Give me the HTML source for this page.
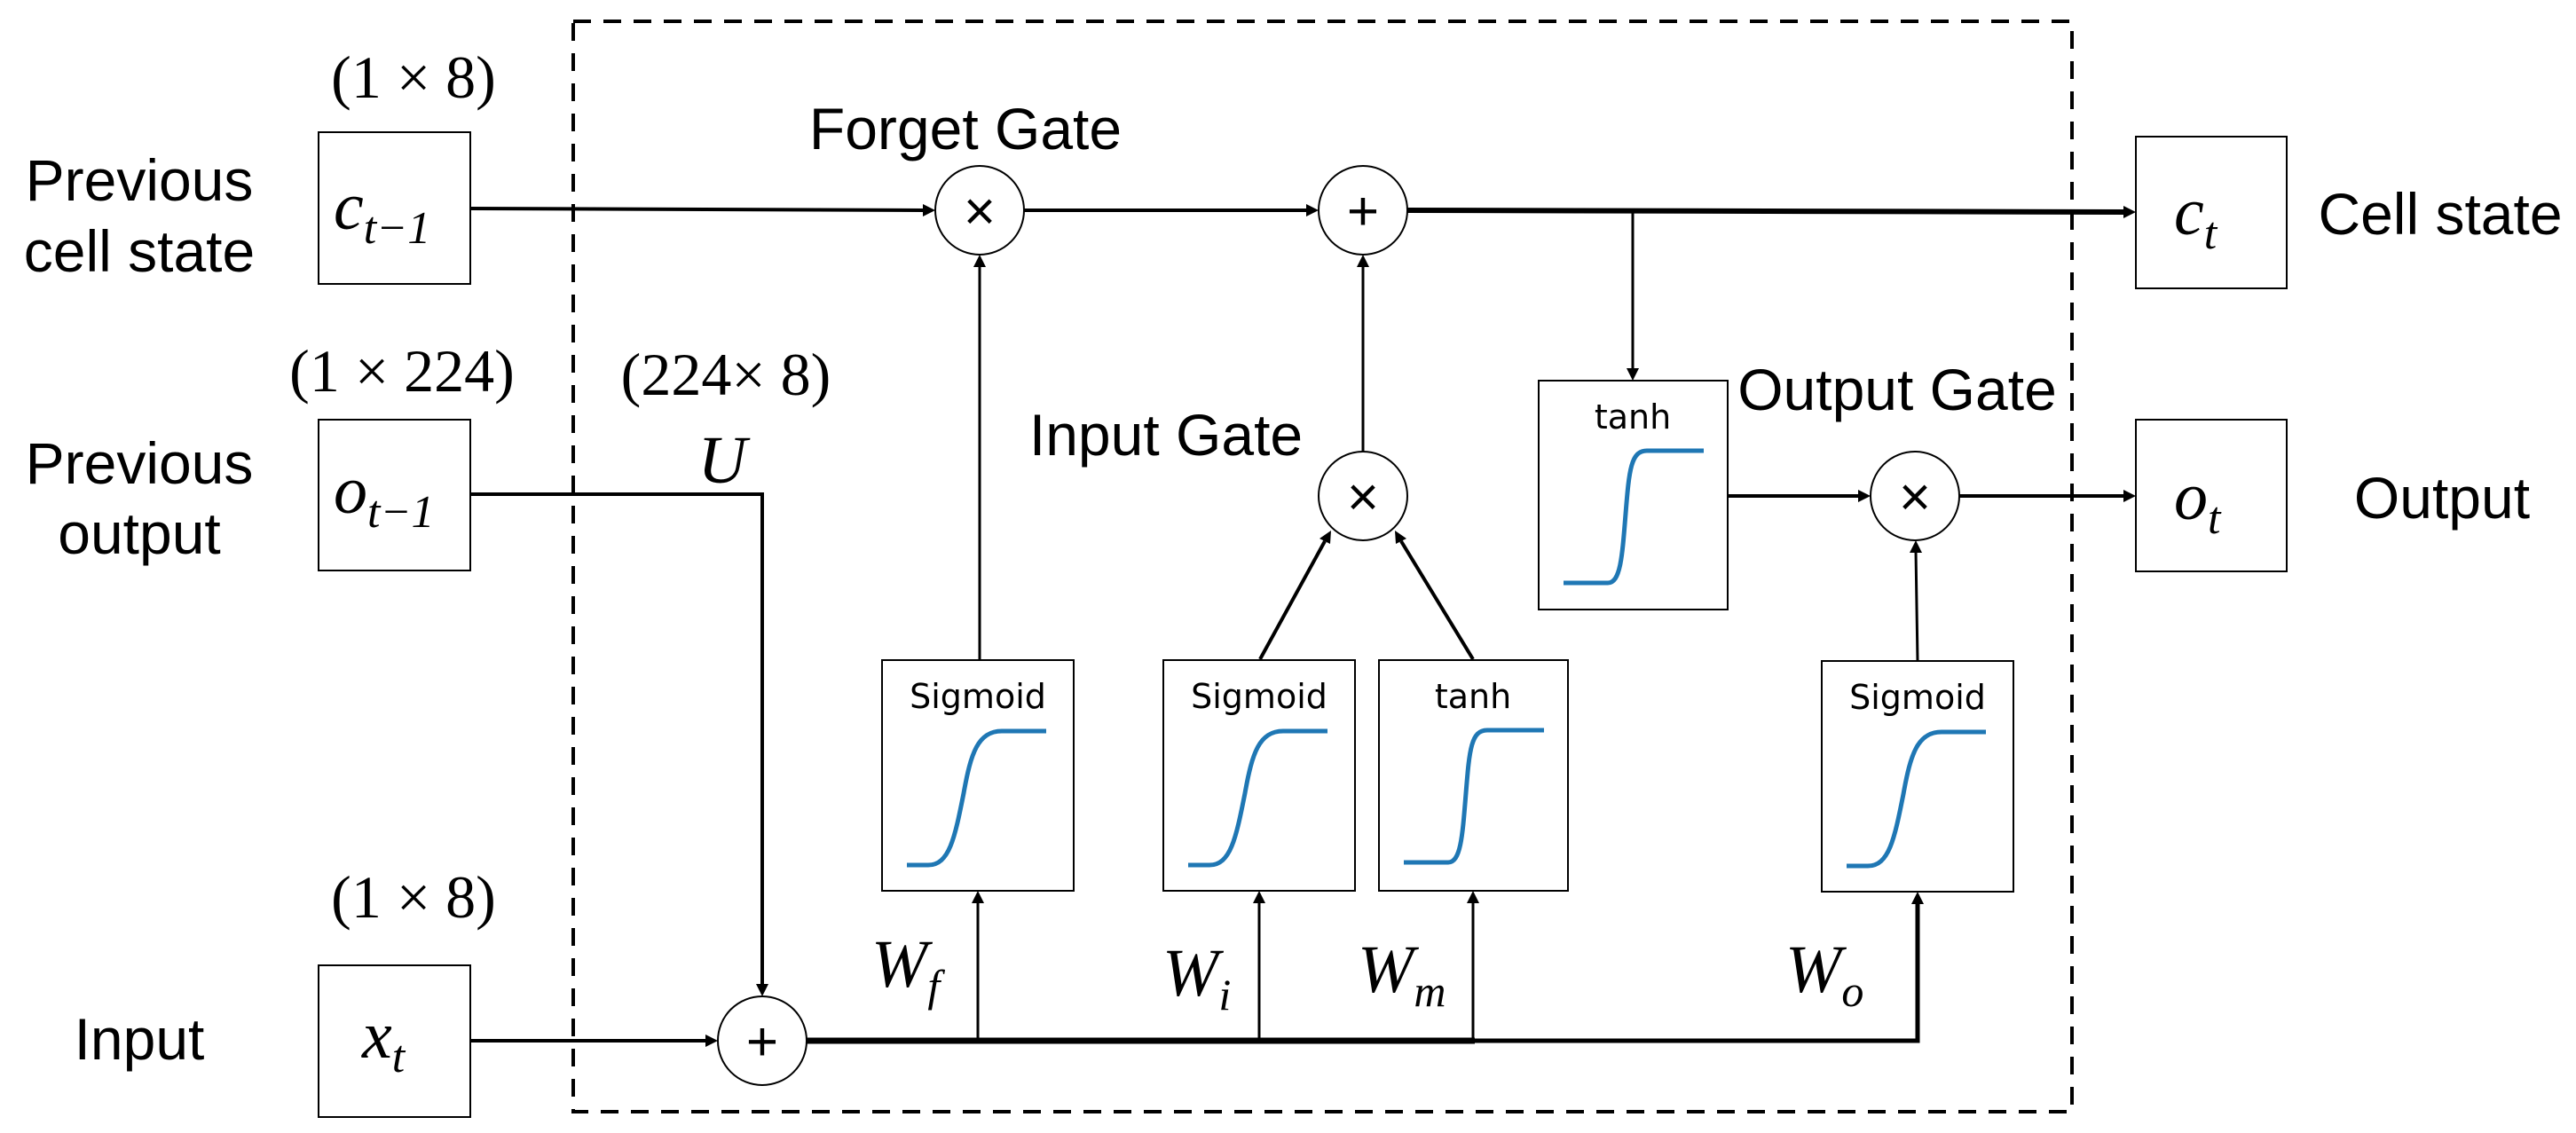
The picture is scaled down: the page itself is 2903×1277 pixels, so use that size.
<!DOCTYPE html>
<html><head><meta charset="utf-8"><style>
html,body{margin:0;padding:0;background:#fff;}
svg{display:block;}
.lbl{font-family:"Liberation Sans",Arial,sans-serif;font-size:66px;fill:#000;}
.m{font-family:"Liberation Serif",serif;font-size:68px;fill:#000;}
.mi{font-family:"Liberation Serif",serif;font-style:italic;font-size:76px;fill:#000;}
.fn{font-family:"DejaVu Sans",sans-serif;font-size:38px;fill:#000;}
</style></head><body>
<svg width="2903" height="1277" viewBox="0 0 2903 1277" xmlns="http://www.w3.org/2000/svg">
<defs>
<symbol id="sg" viewBox="0 0 216 260" width="216" height="260">
<path d="M28,231 L52,231 C76,231 82,200 92,150 C100,105 108,80 135,80 L185,80" fill="none" stroke="#1f77b4" stroke-width="5"/>
</symbol>
<symbol id="th" viewBox="0 0 213 260" width="213" height="260">
<path d="M28,228 L78,228 C92,228 94,200 98,150 C102,100 104,79 122,79 L186,79" fill="none" stroke="#1f77b4" stroke-width="5"/>
</symbol>
</defs>

<rect x="646" y="24" width="1689" height="1229" fill="none" stroke="#000" stroke-width="4" stroke-dasharray="20,14"/>

<rect x="359" y="149" width="171" height="171" fill="#fff" stroke="#000" stroke-width="2"/>
<rect x="359" y="473" width="171" height="170" fill="#fff" stroke="#000" stroke-width="2"/>
<rect x="359" y="1088" width="171" height="171" fill="#fff" stroke="#000" stroke-width="2"/>
<rect x="2407" y="154" width="170" height="171" fill="#fff" stroke="#000" stroke-width="2"/>
<rect x="2407" y="473" width="170" height="171" fill="#fff" stroke="#000" stroke-width="2"/>

<rect x="994" y="744" width="216" height="260" fill="#fff" stroke="#000" stroke-width="2"/>
<use href="#sg" x="994" y="744"/>
<text class="fn" x="1102" y="798" text-anchor="middle">Sigmoid</text>
<rect x="1311" y="744" width="216" height="260" fill="#fff" stroke="#000" stroke-width="2"/>
<use href="#sg" x="1311" y="744"/>
<text class="fn" x="1419" y="798" text-anchor="middle">Sigmoid</text>
<rect x="1554" y="744" width="213" height="260" fill="#fff" stroke="#000" stroke-width="2"/>
<use href="#th" x="1554" y="744"/>
<text class="fn" x="1660" y="798" text-anchor="middle">tanh</text>
<rect x="2053" y="745" width="216" height="260" fill="#fff" stroke="#000" stroke-width="2"/>
<use href="#sg" x="2053" y="745"/>
<text class="fn" x="2161" y="799" text-anchor="middle">Sigmoid</text>
<rect x="1734" y="429" width="213" height="258" fill="#fff" stroke="#000" stroke-width="2"/>
<use href="#th" x="1734" y="429"/>
<text class="fn" x="1840" y="483" text-anchor="middle">tanh</text>

<g stroke="#000" fill="none">
<line x1="530" y1="235" x2="1042" y2="237" stroke-width="4"/>
<line x1="1154" y1="237" x2="1474" y2="237" stroke-width="4"/>
<line x1="1586" y1="237" x2="2395" y2="239" stroke-width="6"/>
<line x1="1840" y1="237" x2="1840" y2="417" stroke-width="3"/>
<line x1="1104" y1="744" x2="1104" y2="299" stroke-width="3"/>
<line x1="1536" y1="509" x2="1536" y2="299" stroke-width="3"/>
<line x1="1420" y1="743" x2="1493" y2="610" stroke-width="4"/>
<line x1="1660" y1="743" x2="1579" y2="610" stroke-width="4"/>
<line x1="1947" y1="559" x2="2096" y2="559" stroke-width="4"/>
<line x1="2208" y1="559" x2="2395" y2="559" stroke-width="4"/>
<line x1="2161" y1="745" x2="2159" y2="621" stroke-width="3"/>
<polyline points="530,557 859,557 859,1111" stroke-width="4"/>
<line x1="530" y1="1173" x2="797" y2="1173" stroke-width="4"/>
<line x1="908" y1="1173" x2="1662" y2="1173" stroke-width="7"/>
<polyline points="1660,1173 2161,1173 2161,1017" stroke-width="5"/>
<line x1="1102" y1="1173" x2="1102" y2="1016" stroke-width="3"/>
<line x1="1419" y1="1173" x2="1419" y2="1016" stroke-width="3"/>
<line x1="1660" y1="1173" x2="1660" y2="1016" stroke-width="3"/>
</g>
<g fill="#000">
<polygon points="1054,237 1040,230 1040,244"/>
<polygon points="1486,237 1472,230 1472,244"/>
<polygon points="2407,239 2393,232 2393,246"/>
<polygon points="1840,429 1833,415 1847,415"/>
<polygon points="1104,287 1097,301 1111,301"/>
<polygon points="1536,287 1529,301 1543,301"/>
<polygon points="1500,598 1487,607 1499,613"/>
<polygon points="1572,598 1573,613 1585,607"/>
<polygon points="2108,559 2094,552 2094,566"/>
<polygon points="2407,559 2393,552 2393,566"/>
<polygon points="2159,609 2152,623 2166,623"/>
<polygon points="859,1123 852,1109 866,1109"/>
<polygon points="809,1173 795,1166 795,1180"/>
<polygon points="1102,1004 1095,1018 1109,1018"/>
<polygon points="1419,1004 1412,1018 1426,1018"/>
<polygon points="1660,1004 1653,1018 1667,1018"/>
<polygon points="2161,1005 2154,1019 2168,1019"/>
</g>

<g fill="#fff" stroke="#000" stroke-width="2">
<ellipse cx="1104" cy="237" rx="50" ry="50"/>
<ellipse cx="1536" cy="237" rx="50" ry="50"/>
<ellipse cx="1536" cy="559" rx="50" ry="50"/>
<ellipse cx="2158" cy="559" rx="50" ry="50"/>
<ellipse cx="859" cy="1173" rx="50" ry="50"/>
</g>
<g class="lbl" text-anchor="middle" style="font-size:62px">
<text x="1104" y="259">×</text>
<text x="1536" y="259">+</text>
<text x="1536" y="581">×</text>
<text x="2158" y="581">×</text>
<text x="859" y="1195">+</text>
</g>

<g class="lbl" text-anchor="middle">
<text x="157" y="226">Previous</text>
<text x="157" y="306">cell state</text>
<text x="157" y="545">Previous</text>
<text x="157" y="624">output</text>
<text x="157" y="1194">Input</text>
<text x="1088" y="168">Forget Gate</text>
<text x="1314" y="513">Input Gate</text>
<text x="2138" y="462">Output Gate</text>
<text x="2750" y="264">Cell state</text>
<text x="2752" y="584">Output</text>
</g>
<g class="m" text-anchor="middle">
<text x="466" y="110">(1 × 8)</text>
<text x="453" y="441">(1 × 224)</text>
<text x="818" y="445">(224× 8)</text>
<text x="466" y="1034">(1 × 8)</text>
</g>
<g class="mi">
<text x="814" y="544" text-anchor="middle">U</text>
<text x="376" y="258">c<tspan font-size="52" dy="16">t−1</tspan></text>
<text x="376" y="578">o<tspan font-size="52" dy="16">t−1</tspan></text>
<text x="408" y="1192">x<tspan font-size="52" dy="16">t</tspan></text>
<text x="2450" y="264">c<tspan font-size="52" dy="16">t</tspan></text>
<text x="2450" y="585">o<tspan font-size="52" dy="16">t</tspan></text>
<text x="982" y="1112">W<tspan font-size="50" dy="16">f</tspan></text>
<text x="1310" y="1122">W<tspan font-size="50" dy="16">i</tspan></text>
<text x="1530" y="1118">W<tspan font-size="50" dy="16">m</tspan></text>
<text x="2012" y="1118">W<tspan font-size="50" dy="16">o</tspan></text>
</g>
</svg>
</body></html>
